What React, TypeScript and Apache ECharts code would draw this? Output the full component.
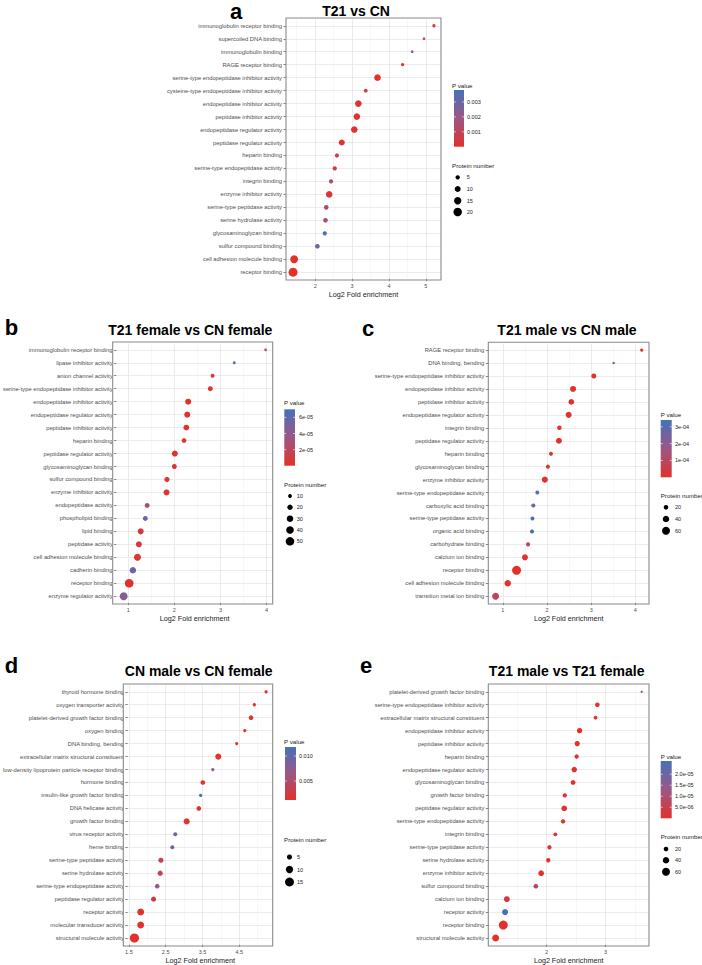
import React, { useEffect, useRef } from "react";
import * as echarts from "echarts";

// ---------- Panel a: T21 vs CN ----------
const aTerms = ["immunoglobulin receptor binding", "supercoiled DNA binding", "immunoglobulin binding", "RAGE receptor binding", "serine-type endopeptidase inhibitor activity", "cysteine-type endopeptidase inhibitor activity", "endopeptidase inhibitor activity", "peptidase inhibitor activity", "endopeptidase regulator activity", "peptidase regulator activity", "heparin binding", "serine-type endopeptidase activity", "integrin binding", "enzyme inhibitor activity", "serine-type peptidase activity", "serine hydrolase activity", "glycosaminoglycan binding", "sulfur compound binding", "cell adhesion molecule binding", "receptor binding"];
const aFold = [5.22, 4.95, 4.63, 4.37, 3.69, 3.37, 3.17, 3.13, 3.06, 2.72, 2.59, 2.53, 2.43, 2.38, 2.30, 2.28, 2.26, 2.06, 1.43, 1.40];
const aCount = [3, 2, 2, 3, 12, 4, 12, 12, 12, 10, 5, 5, 5, 12, 6, 6, 5, 6, 17, 22];
const aPval = [0.0003, 0.0012, 0.0022, 0.0004, 0.00001, 0.0006, 0.00002, 0.00003, 0.00004, 0.0001, 0.001, 0.0006, 0.0017, 0.0002, 0.0013, 0.0013, 0.0038, 0.0027, 0.00001, 0.000005];
const aSizeBreaks = [5, 10, 15, 20];
const aPBreaks = [0.001, 0.002, 0.003];
const aPLabels = ["0.001", "0.002", "0.003"];
const aXTicks = [2, 3, 4, 5];
const aXMinor = [1.5, 2.5, 3.5, 4.5];

// ---------- Panel b: T21 female vs CN female ----------
const bTerms = ["immunoglobulin receptor binding", "lipase inhibitor activity", "anion channel activity", "serine-type endopeptidase inhibitor activity", "endopeptidase inhibitor activity", "endopeptidase regulator activity", "peptidase inhibitor activity", "heparin binding", "peptidase regulator activity", "glycosaminoglycan binding", "sulfur compound binding", "enzyme inhibitor activity", "endopeptidase activity", "phospholipid binding", "lipid binding", "peptidase activity", "cell adhesion molecule binding", "cadherin binding", "receptor binding", "enzyme regulator activity"];
const bFold = [3.98, 3.30, 2.83, 2.78, 2.30, 2.28, 2.26, 2.21, 2.01, 2.00, 1.84, 1.83, 1.41, 1.37, 1.27, 1.23, 1.20, 1.10, 1.02, 0.90];
const bCount = [5, 6, 11, 17, 25, 25, 23, 15, 25, 17, 19, 25, 17, 17, 25, 25, 34, 29, 52, 44];
const bPval = [2.6e-5, 7.0e-5, 0.8e-5, 0.5e-5, 0.05e-5, 0.06e-5, 0.07e-5, 0.3e-5, 0.1e-5, 0.4e-5, 0.5e-5, 0.3e-5, 2.8e-5, 5.6e-5, 0.6e-5, 0.8e-5, 0.2e-5, 5.4e-5, 0.01e-5, 4.4e-5];
const bSizeBreaks = [10, 20, 30, 40, 50];
const bPBreaks = [2e-5, 4e-5, 6e-5];
const bPLabels = ["2e-05", "4e-05", "6e-05"];
const bXTicks = [1, 2, 3, 4];
const bXMinor = [1.5, 2.5, 3.5];

// ---------- Panel c: T21 male vs CN male ----------
const cTerms = ["RAGE receptor binding", "DNA binding, bending", "serine-type endopeptidase inhibitor activity", "endopeptidase inhibitor activity", "peptidase inhibitor activity", "endopeptidase regulator activity", "integrin binding", "peptidase regulator activity", "heparin binding", "glycosaminoglycan binding", "enzyme inhibitor activity", "serine-type endopeptidase activity", "carboxylic acid binding", "serine-type peptidase activity", "organic acid binding", "carbohydrate binding", "calcium ion binding", "receptor binding", "cell adhesion molecule binding", "transition metal ion binding"];
const cFold = [4.145, 3.51, 3.06, 2.59, 2.55, 2.49, 2.28, 2.27, 2.09, 2.02, 1.95, 1.78, 1.69, 1.67, 1.66, 1.57, 1.50, 1.31, 1.11, 0.835];
const cCount = [10, 6, 24, 34, 30, 34, 19, 34, 15, 16, 34, 15, 16, 15, 16, 16, 34, 75, 40, 46];
const cPval = [0.1e-4, 1.6e-4, 0.05e-4, 0.005e-4, 0.01e-4, 0.01e-4, 0.05e-4, 0.01e-4, 0.05e-4, 0.1e-4, 0.01e-4, 3.0e-4, 2.8e-4, 3.4e-4, 3.3e-4, 0.9e-4, 0.1e-4, 0.001e-4, 0.05e-4, 0.9e-4];
const cSizeBreaks = [20, 40, 60];
const cPBreaks = [1e-4, 2e-4, 3e-4];
const cPLabels = ["1e-04", "2e-04", "3e-04"];
const cXTicks = [1, 2, 3, 4];
const cXMinor = [1.5, 2.5, 3.5];

// ---------- Panel d: CN male vs CN female ----------
const dTerms = ["thyroid hormone binding", "oxygen transporter activity", "platelet-derived growth factor binding", "oxygen binding", "DNA binding, bending", "extracellular matrix structural constituent", "low-density lipoprotein particle receptor binding", "hormone binding", "insulin-like growth factor binding", "DNA helicase activity", "growth factor binding", "virus receptor activity", "heme binding", "serine-type peptidase activity", "serine hydrolase activity", "serine-type endopeptidase activity", "peptidase regulator activity", "receptor activity", "molecular transducer activity", "structural molecule activity"];
const dFold = [5.23, 4.91, 4.82, 4.65, 4.43, 3.93, 3.78, 3.51, 3.45, 3.40, 3.07, 2.76, 2.68, 2.37, 2.35, 2.27, 2.17, 1.82, 1.82, 1.65];
const dCount = [2, 2, 4, 2, 2, 7, 2, 4, 2, 4, 7, 3, 3, 5, 5, 4, 5, 9, 9, 16];
const dPval = [0.0015, 0.0016, 0.0013, 0.0017, 0.0018, 0.0013, 0.0075, 0.0016, 0.0118, 0.0014, 0.0013, 0.0092, 0.0088, 0.0035, 0.0035, 0.0072, 0.002, 0.0013, 0.0013, 0.0012];
const dSizeBreaks = [5, 10, 15];
const dPBreaks = [0.005, 0.01];
const dPLabels = ["0.005", "0.010"];
const dXTicks = [1.5, 2.5, 3.5, 4.5];
const dXMinor = [2, 3, 4, 5];

// ---------- Panel e: T21 male vs T21 female ----------
const eTerms = ["platelet-derived growth factor binding", "serine-type endopeptidase inhibitor activity", "extracellular matrix structural constituent", "endopeptidase inhibitor activity", "peptidase inhibitor activity", "heparin binding", "endopeptidase regulator activity", "glycosaminoglycan binding", "growth factor binding", "peptidase regulator activity", "serine-type endopeptidase activity", "integrin binding", "serine-type peptidase activity", "serine hydrolase activity", "enzyme inhibitor activity", "sulfur compound binding", "calcium ion binding", "receptor activity", "receptor binding", "structural molecule activity"];
const eFold = [3.61, 2.86, 2.83, 2.56, 2.52, 2.51, 2.47, 2.45, 2.31, 2.30, 2.28, 2.15, 2.05, 2.03, 1.91, 1.82, 1.33, 1.30, 1.27, 1.14];
const eCount = [5, 20, 14, 27, 26, 18, 28, 22, 17, 30, 18, 14, 18, 18, 30, 20, 32, 35, 75, 45];
const ePval = [1.4e-5, 0.1e-5, 0.15e-5, 0.01e-5, 0.02e-5, 0.05e-5, 0.02e-5, 0.05e-5, 0.1e-5, 0.03e-5, 0.1e-5, 0.2e-5, 0.1e-5, 0.1e-5, 0.02e-5, 0.7e-5, 0.25e-5, 2.6e-5, 0.0001e-5, 0.001e-5];
const eSizeBreaks = [20, 40, 60];
const ePBreaks = [5e-6, 1e-5, 1.5e-5, 2e-5];
const ePLabels = ["5.0e-06", "1.0e-05", "1.5e-05", "2.0e-05"];
const eXTicks = [2, 3];
const eXMinor = [1.5, 2.5, 3.5];

const FONT = "'Liberation Sans', Arial, Helvetica, sans-serif";
const RAMP = ["#E2312B", "#9C5686", "#4571B8"];

type Panel = {
  letter: string; title: string;
  terms: string[]; fold: number[]; count: number[]; pval: number[];
  sizeBreaks: number[]; pBreaks: number[]; pLabels: string[];
  xTicks: number[]; xMinor: number[];
  k: number;
  box: [number, number, number, number];
  titlePos: [number, number]; letterPos: [number, number];
  cb: { x: number; y: number; w: number; h: number; tx: number; ty: number; lx: number };
  sl: { tx: number; ty: number; dx: number; lx: number; ys: number[] };
};

const panels: Panel[] = [
  {
    letter: "a", title: "T21 vs CN", terms: aTerms, fold: aFold, count: aCount, pval: aPval,
    sizeBreaks: aSizeBreaks, pBreaks: aPBreaks, pLabels: aPLabels, xTicks: aXTicks, xMinor: aXMinor, k: 1.9,
    box: [286, 18, 155, 262], titlePos: [356, 11], letterPos: [236, 11],
    cb: { x: 454, y: 90, w: 10, h: 56.7, tx: 452, ty: 85, lx: 467 },
    sl: { tx: 452, ty: 165.7, dx: 457.7, lx: 466.7, ys: [177.3, 189, 200.7, 212] },
  },
  {
    letter: "b", title: "T21 female vs CN female", terms: bTerms, fold: bFold, count: bCount, pval: bPval,
    sizeBreaks: bSizeBreaks, pBreaks: bPBreaks, pLabels: bPLabels, xTicks: bXTicks, xMinor: bXMinor, k: 1.2,
    box: [112.7, 342, 160, 262], titlePos: [190.3, 330], letterPos: [11.5, 327],
    cb: { x: 284.3, y: 409.3, w: 10.7, h: 56.4, tx: 284, ty: 402.7, lx: 299 },
    sl: { tx: 284, ty: 484.3, dx: 290, lx: 296.7, ys: [496, 507.3, 518.7, 530, 541.3] },
  },
  {
    letter: "c", title: "T21 male vs CN male", terms: cTerms, fold: cFold, count: cCount, pval: cPval,
    sizeBreaks: cSizeBreaks, pBreaks: cPBreaks, pLabels: cPLabels, xTicks: cXTicks, xMinor: cXMinor, k: 1.03,
    box: [488.3, 342.3, 160.7, 261.7], titlePos: [567, 330], letterPos: [368, 328],
    cb: { x: 660.7, y: 420, w: 11, h: 57.3, tx: 660.7, ty: 414.3, lx: 675 },
    sl: { tx: 660.7, ty: 495, dx: 666, lx: 675, ys: [507.3, 519, 530.7] },
  },
  {
    letter: "d", title: "CN male vs CN female", terms: dTerms, fold: dFold, count: dCount, pval: dPval,
    sizeBreaks: dSizeBreaks, pBreaks: dPBreaks, pLabels: dPLabels, xTicks: dXTicks, xMinor: dXMinor, k: 2.3,
    box: [123.3, 684, 149.4, 262], titlePos: [198.7, 670.7], letterPos: [11.5, 665],
    cb: { x: 285, y: 747, w: 11, h: 53, tx: 284, ty: 741, lx: 299 },
    sl: { tx: 284, ty: 839, dx: 289.5, lx: 297, ys: [857, 869.5, 882] },
  },
  {
    letter: "e", title: "T21 male vs T21 female", terms: eTerms, fold: eFold, count: eCount, pval: ePval,
    sizeBreaks: eSizeBreaks, pBreaks: ePBreaks, pLabels: ePLabels, xTicks: eXTicks, xMinor: eXMinor, k: 1.03,
    box: [488.3, 684, 160.7, 262], titlePos: [566.7, 670.7], letterPos: [366, 665],
    cb: { x: 660.7, y: 761, w: 11, h: 57.3, tx: 660.7, ty: 756, lx: 675 },
    sl: { tx: 660.7, ty: 836.7, dx: 666, lx: 675, ys: [849, 860.3, 871.7] },
  },
];

function buildOption() {
  const grid: any[] = [];
  const xAxis: any[] = [];
  const yAxis: any[] = [];
  const series: any[] = [];
  const visualMap: any[] = [];
  const graphic: any[] = [];
  const tickStyle = { color: "#333333", width: 0.6 };

  panels.forEach((p, i) => {
    const n = p.terms.length;
    const [L, T, W, H] = p.box;
    const band = H / (n - 1 + 1.2);
    grid.push({ left: L, top: T + 0.1 * band, width: W, height: band * n, show: false, containLabel: false });
    const lo = Math.min(...p.fold);
    const hi = Math.max(...p.fold);
    const pad = (hi - lo) * 0.05;
    xAxis.push({
      type: "value", gridIndex: i, min: lo - pad, max: hi + pad,
      splitLine: { show: false }, axisLine: { show: false },
      axisTick: { show: true, length: 2.5, lineStyle: tickStyle, customValues: p.xTicks },
      axisLabel: { customValues: p.xTicks, fontSize: 5.5, color: "#4D4D4D", margin: 4.5, fontFamily: FONT },
      name: "Log2 Fold enrichment", nameLocation: "middle", nameGap: 12.5,
      nameTextStyle: { fontSize: 7.2, color: "#1A1A1A", fontFamily: FONT },
    });
    yAxis.push({
      type: "category", gridIndex: i, data: p.terms, inverse: true, boundaryGap: true,
      axisLine: { show: false },
      axisTick: { show: true, alignWithLabel: true, length: 2.5, lineStyle: tickStyle },
      axisLabel: { fontSize: 5.8, color: "#4D4D4D", margin: 4, interval: 0, fontFamily: FONT },
      splitLine: { show: false },
    });
    const lines: any[] = [];
    p.xMinor.forEach((v) => lines.push({ xAxis: v, lineStyle: { color: "#F1F1F1", width: 0.5, type: "solid" } }));
    p.xTicks.forEach((v) => lines.push({ xAxis: v, lineStyle: { color: "#E6E6E6", width: 0.8, type: "solid" } }));
    p.terms.forEach((_, k) => lines.push({ yAxis: k, lineStyle: { color: "#E6E6E6", width: 0.8, type: "solid" } }));
    series.push({
      type: "scatter", xAxisIndex: i, yAxisIndex: i, data: [], z: 1, silent: true,
      markLine: { z: 1, silent: true, symbol: ["none", "none"], label: { show: false }, animation: false, emphasis: { disabled: true }, data: lines },
    });
    const k = p.k;
    series.push({
      type: "scatter", xAxisIndex: i, yAxisIndex: i, z: 3,
      data: p.terms.map((t, j) => [p.fold[j], t, p.count[j], p.pval[j]]),
      symbolSize: (v: number[]) => k * Math.sqrt(v[2]),
      itemStyle: { opacity: 1 },
    });
    const pmin = Math.min(...p.pval);
    const pmax = Math.max(...p.pval);
    visualMap.push({ type: "continuous", show: false, seriesIndex: 2 * i + 1, dimension: 3, min: pmin, max: pmax, inRange: { color: RAMP } });

    // panel border
    graphic.push({ type: "rect", z: 50, silent: true, shape: { x: L, y: T, width: W, height: H }, style: { fill: "none", stroke: "#8A8A8A", lineWidth: 1.1 } });
    // title & letter
    graphic.push({ type: "text", z: 50, x: p.titlePos[0], y: p.titlePos[1], style: { text: p.title, fontSize: 14, fontWeight: "bold", fontFamily: FONT, fill: "#000", align: "center", verticalAlign: "middle" } });
    graphic.push({ type: "text", z: 50, x: p.letterPos[0], y: p.letterPos[1], style: { text: p.letter, fontSize: 22, fontWeight: "bold", fontFamily: FONT, fill: "#000", align: "center", verticalAlign: "middle" } });

    // colour bar
    const cb = p.cb;
    graphic.push({ type: "text", z: 50, x: cb.tx, y: cb.ty, style: { text: "P value", fontSize: 6.2, fontFamily: FONT, fill: "#1A1A1A", align: "left", verticalAlign: "middle" } });
    graphic.push({
      type: "rect", z: 50, shape: { x: cb.x, y: cb.y, width: cb.w, height: cb.h },
      style: { fill: { type: "linear", x: 0, y: 0, x2: 0, y2: 1, colorStops: [{ offset: 0, color: RAMP[2] }, { offset: 0.5, color: RAMP[1] }, { offset: 1, color: RAMP[0] }] } },
    });
    p.pBreaks.forEach((v, j) => {
      const yy = cb.y + cb.h - ((v - pmin) / (pmax - pmin)) * cb.h;
      graphic.push({ type: "line", z: 51, shape: { x1: cb.x, y1: yy, x2: cb.x + 2, y2: yy }, style: { stroke: "#FFFFFF", lineWidth: 0.6 } });
      graphic.push({ type: "line", z: 51, shape: { x1: cb.x + cb.w - 2, y1: yy, x2: cb.x + cb.w, y2: yy }, style: { stroke: "#FFFFFF", lineWidth: 0.6 } });
      graphic.push({ type: "text", z: 50, x: cb.lx, y: yy, style: { text: p.pLabels[j], fontSize: 5.5, fontFamily: FONT, fill: "#1A1A1A", align: "left", verticalAlign: "middle" } });
    });

    // size legend
    const sl = p.sl;
    graphic.push({ type: "text", z: 50, x: sl.tx, y: sl.ty, style: { text: "Protein number", fontSize: 6.2, fontFamily: FONT, fill: "#1A1A1A", align: "left", verticalAlign: "middle" } });
    p.sizeBreaks.forEach((v, j) => {
      graphic.push({ type: "circle", z: 50, shape: { cx: sl.dx, cy: sl.ys[j], r: (k * Math.sqrt(v)) / 2 }, style: { fill: "#000" } });
      graphic.push({ type: "text", z: 50, x: sl.lx, y: sl.ys[j], style: { text: String(v), fontSize: 5.5, fontFamily: FONT, fill: "#1A1A1A", align: "left", verticalAlign: "middle" } });
    });
  });

  return {
    animation: false,
    backgroundColor: "#FFFFFF",
    textStyle: { fontFamily: FONT },
    grid, xAxis, yAxis, series, visualMap, graphic,
  };
}

export default function App() {
  const ref = useRef<HTMLDivElement>(null);
  useEffect(() => {
    if (!ref.current) return;
    const chart = echarts.init(ref.current, undefined, { renderer: "svg" });
    chart.setOption(buildOption() as any);
    return () => chart.dispose();
  }, []);
  return <div ref={ref} style={{ position: "absolute", left: 0, top: 0, width: 702, height: 965, background: "#fff" }} />;
}
